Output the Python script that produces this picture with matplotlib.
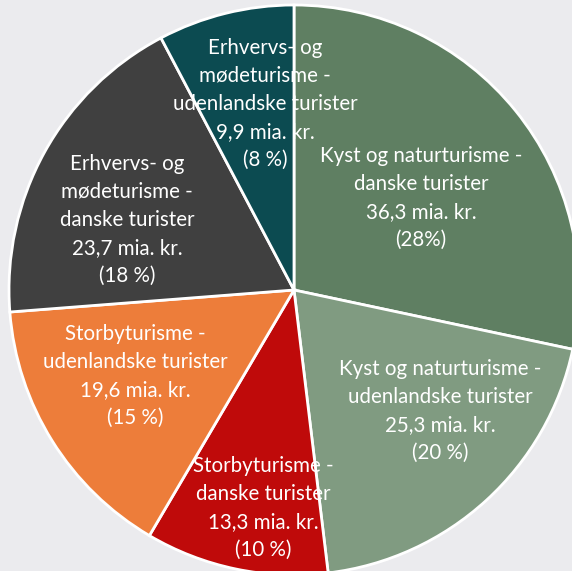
import matplotlib
matplotlib.use("Agg")
import matplotlib.pyplot as plt

# ---- data ----
labels = [
    "Kyst og naturturisme -\ndanske turister",
    "Kyst og naturturisme -\nudenlandske turister",
    "Storbyturisme -\ndanske turister",
    "Storbyturisme -\nudenlandske turister",
    "Erhvervs- og\nmødeturisme -\ndanske turister",
    "Erhvervs- og\nmødeturisme -\nudenlandske turister",
]
values = [36.3, 25.3, 13.3, 19.6, 23.7, 9.9]
pct_labels = ["(28%)", "(20 %)", "(10 %)", "(15 %)", "(18 %)", "(8 %)"]
value_labels = ["36,3 mia. kr.", "25,3 mia. kr.", "13,3 mia. kr.",
                "19,6 mia. kr.", "23,7 mia. kr.", "9,9 mia. kr."]

# ---- style / layout ----
colors = ["#5f7f62", "#809b81", "#bf0a0a", "#ed7d3a", "#404040", "#0c4b51"]
bg = "#ebebee"
W, H = 572, 571
cx, cy, R = 294, 290, 285          # pixel centre (y down) and radius
label_pos = [(421, 198), (440, 411), (263, 508), (135, 376), (127, 220), (265, 104)]

fig = plt.figure(figsize=(W / 100, H / 100), dpi=100, facecolor=bg)
ax = fig.add_axes([0, 0, 1, 1])
ax.set_facecolor(bg)

wedges, _ = ax.pie(values, colors=colors, startangle=90, counterclock=False,
                   center=(cx, H - cy), radius=R,
                   wedgeprops=dict(edgecolor="white", linewidth=2.0))
ax.set_xlim(0, W)
ax.set_ylim(0, H)
ax.set_aspect("equal")
ax.axis("off")

for lab, v, p, (x, y) in zip(labels, value_labels, pct_labels, label_pos):
    ax.text(x, H - y, f"{lab}\n{v}\n{p}", ha="center", va="center",
            color="white", fontsize=14.8, family="Lato", linespacing=1.5)

fig.savefig("out.png", dpi=100, facecolor=bg)
